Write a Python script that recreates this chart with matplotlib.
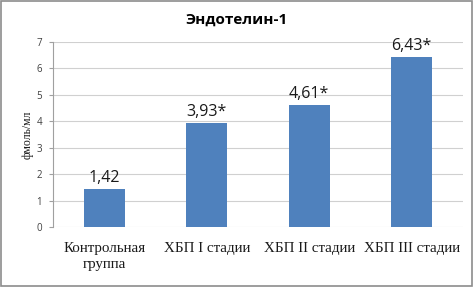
import matplotlib.pyplot as plt
from matplotlib.patches import Rectangle

categories = ['Контрольная\nгруппа', 'ХБП I стадии', 'ХБП II стадии', 'ХБП III стадии']
values = [1.42, 3.93, 4.61, 6.43]
labels = ['1,42', '3,93*', '4,61*', '6,43*']
yticks = [0, 1, 2, 3, 4, 5, 6, 7]

fig = plt.figure(figsize=(4.73, 2.87), dpi=100)
fig.patches.append(Rectangle((0.002, 0.003), 0.995, 0.993, transform=fig.transFigure,
                             fill=False, edgecolor='#8c8c8c', linewidth=1.2))
ax = fig.add_axes([0.112, 0.209, 0.867, 0.645])

x = range(len(values))
ax.bar(x, values, width=0.4, color='#4f81bd', zorder=3)
for xi, v, lab in zip(x, values, labels):
    ax.text(xi, v + 0.12, lab, ha='center', va='bottom', fontsize=11.5,
            family='Open Sans', color='#1a1a1a')

ax.set_xlim(-0.5, len(values) - 0.5)
ax.set_ylim(0, 7)
ax.set_yticks(yticks)
ax.set_yticklabels([str(t) for t in yticks], fontsize=7, color='#404040', family='Open Sans')
ax.set_xticks(list(x))
ax.set_xticklabels(categories, fontsize=10.8, family='Liberation Serif', color='#1a1a1a',
                   linespacing=1.25)
ax.tick_params(axis='x', length=0, pad=11)
ax.tick_params(axis='y', length=3, color='#a0a0a0', pad=7)
for lab in ax.get_yticklabels():
    lab.set_horizontalalignment('center')
ax.yaxis.grid(True, color='#d0d0d0', linewidth=0.8, zorder=0)
for s in ['top', 'right', 'bottom']:
    ax.spines[s].set_visible(False)
ax.spines['left'].set_color('#a0a0a0')
ax.set_ylabel('фмоль/мл', fontsize=8.5, family='Liberation Serif', color='#1a1a1a', labelpad=2)

fig.text(0.5, 0.93, 'Эндотелин-1', ha='center', va='center', fontsize=11,
         fontweight='bold', family='Open Sans')

fig.savefig('out.png', dpi=100)
